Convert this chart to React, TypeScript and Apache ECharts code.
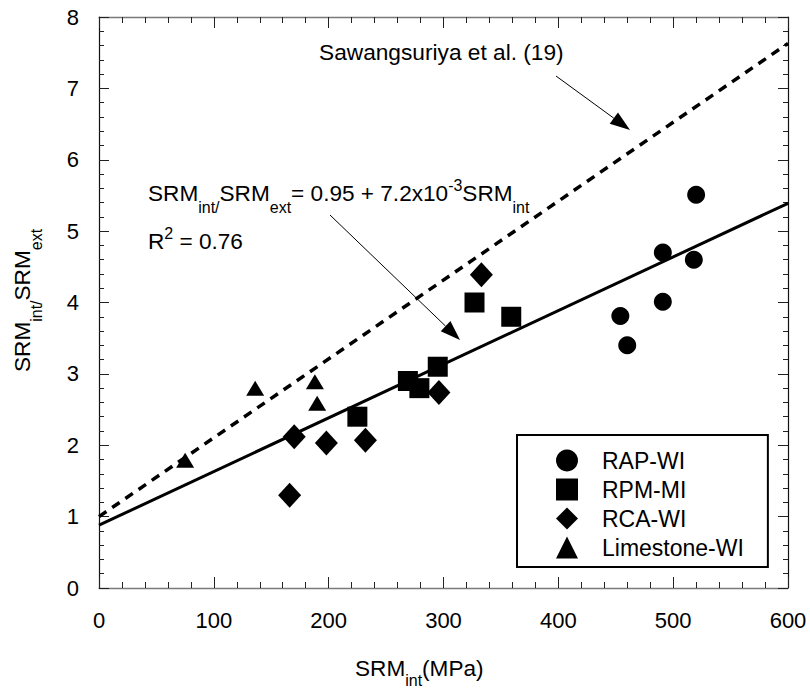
import React, { useEffect, useRef } from 'react';
import * as echarts from 'echarts';

// ---- data ----
const rapX = [520, 491, 518, 491, 454, 460];
const rapY = [5.51, 4.7, 4.6, 4.01, 3.81, 3.4];
const rpmX = [225, 269, 279, 295, 327, 359];
const rpmY = [2.4, 2.9, 2.8, 3.1, 4.0, 3.8];
const rcaX = [166, 170, 198, 232, 296, 333];
const rcaY = [1.3, 2.12, 2.03, 2.07, 2.74, 4.39];
const limeX = [75, 136, 188, 190];
const limeY = [1.79, 2.8, 2.89, 2.59];
const fitX = [0, 600];
const fitY = [0.88, 5.39];
const sawX = [0, 600];
const sawY = [1.0, 7.63];
const seriesNames = ['RAP-WI', 'RPM-MI', 'RCA-WI', 'Limestone-WI'];
const xTicks = { min: 0, max: 600, interval: 100 };
const yTicks = { min: 0, max: 8, interval: 1 };

const FONT = "'Liberation Sans', Arial, Helvetica, sans-serif";

const zip = (xs: number[], ys: number[]) => xs.map((x, i) => [x, ys[i]]);

const richBase = {
  m: { fontSize: 22.6, lineHeight: 44, fontFamily: FONT, color: '#000' },
  s: { fontSize: 16, verticalAlign: 'bottom', fontFamily: FONT, color: '#000' },
  sx: { fontSize: 16, verticalAlign: 'bottom', padding: [0, 0, 1.5, 0], fontFamily: FONT, color: '#000' },
  p: { fontSize: 16, verticalAlign: 'top', padding: [6, 0, 0, 0], fontFamily: FONT, color: '#000' },
};

function arrow(x1: number, y1: number, x2: number, y2: number) {
  const dx = x2 - x1;
  const dy = y2 - y1;
  const len = Math.sqrt(dx * dx + dy * dy);
  const ux = dx / len;
  const uy = dy / len;
  const hl = 20;
  const hw = 7;
  const bx = x2 - ux * hl;
  const by = y2 - uy * hl;
  const nx = -uy;
  const ny = ux;
  return [
    { type: 'line', shape: { x1, y1, x2: bx, y2: by }, style: { stroke: '#000', lineWidth: 1 }, z: 10 },
    {
      type: 'polygon',
      shape: { points: [[x2, y2], [bx + nx * hw, by + ny * hw], [bx - nx * hw, by - ny * hw]] },
      style: { fill: '#000' },
      z: 10,
    },
  ];
}

function richText(x: number, y: number, text: string, rotation = 0) {
  return {
    type: 'text',
    x,
    y,
    rotation,
    z: 10,
    style: {
      text,
      x: 0,
      y: 0,
      align: 'left',
      verticalAlign: 'middle',
      fontSize: 22.6,
      fontFamily: FONT,
      fill: '#000',
      rich: richBase,
    },
  };
}

export default function App() {
  const ref = useRef<HTMLDivElement>(null);
  useEffect(() => {
    if (!ref.current) return;
    const chart = echarts.init(ref.current, null, { renderer: 'svg' });

    const axisCommonX = {
      type: 'value',
      min: xTicks.min,
      max: xTicks.max,
      interval: xTicks.interval,
      axisLine: { show: true, onZero: false, lineStyle: { color: '#7a7a7a', width: 1.3 } },
      axisTick: { show: true, inside: true, length: 11, lineStyle: { color: '#222', width: 1 } },
      minorTick: { show: true, splitNumber: 5, length: 6, lineStyle: { color: '#222', width: 1 } },
      splitLine: { show: false },
      minorSplitLine: { show: false },
    };
    const axisCommonY = {
      type: 'value',
      min: yTicks.min,
      max: yTicks.max,
      interval: yTicks.interval,
      axisLine: { show: true, onZero: false, lineStyle: { color: '#111', width: 1.2 } },
      axisTick: { show: true, inside: true, length: 10, lineStyle: { color: '#222', width: 1 } },
      minorTick: { show: true, splitNumber: 5, length: 5, lineStyle: { color: '#222', width: 1 } },
      splitLine: { show: false },
      minorSplitLine: { show: false },
    };

    const scatterBase = {
      type: 'scatter',
      xAxisIndex: 0,
      yAxisIndex: 0,
      itemStyle: { color: '#000', opacity: 1 },
      z: 5,
    };

    chart.setOption({
      animation: false,
      backgroundColor: '#fff',
      textStyle: { fontFamily: FONT },
      grid: { left: 99, right: 22, top: 17, bottom: 101, containLabel: false, outerBoundsMode: 'none' },
      xAxis: [
        {
          ...axisCommonX,
          position: 'bottom',
          axisLabel: { show: true, margin: 21, fontSize: 22, color: '#000', fontFamily: FONT },
        },
        {
          ...axisCommonX,
          position: 'top',
          axisLabel: { show: false },
        },
      ],
      yAxis: [
        {
          ...axisCommonY,
          position: 'left',
          axisLabel: { show: true, margin: 20, fontSize: 22, color: '#000', fontFamily: FONT },
        },
        {
          ...axisCommonY,
          position: 'right',
          axisLabel: { show: false },
        },
      ],
      legend: {
        show: true,
        data: seriesNames,
        orient: 'vertical',
        left: 517,
        top: 435,
        padding: [14, 24, 8, 39],
        itemWidth: 22,
        itemHeight: 22,
        itemGap: 6,
        backgroundColor: '#fff',
        borderColor: '#000',
        borderWidth: 2,
        borderRadius: 0,
        selectedMode: false,
        itemStyle: { color: '#000' },
        textStyle: { fontSize: 23, color: '#000', fontFamily: FONT, padding: [0, 0, 0, 19] },
      },
      series: [
        {
          type: 'line',
          name: 'fit',
          data: zip(fitX, fitY),
          showSymbol: false,
          silent: true,
          lineStyle: { color: '#000', width: 3 },
          z: 2,
        },
        {
          type: 'line',
          name: 'Sawangsuriya',
          data: zip(sawX, sawY),
          showSymbol: false,
          silent: true,
          lineStyle: { color: '#000', width: 3.5, type: [9, 7] },
          z: 2,
        },
        { ...scatterBase, name: seriesNames[0], symbol: 'circle', symbolSize: 18, data: zip(rapX, rapY) },
        { ...scatterBase, name: seriesNames[1], symbol: 'rect', symbolSize: 20, data: zip(rpmX, rpmY) },
        { ...scatterBase, name: seriesNames[2], symbol: 'diamond', symbolSize: [23, 25], data: zip(rcaX, rcaY) },
        { ...scatterBase, name: seriesNames[3], symbol: 'triangle', symbolSize: [18, 15], data: zip(limeX, limeY) },
      ],
      graphic: [
        {
          type: 'text',
          x: 319,
          y: 52,
          z: 10,
          style: {
            text: 'Sawangsuriya et al. (19)',
            x: 0,
            y: 0,
            align: 'left',
            verticalAlign: 'middle',
            fontSize: 22.7,
            fontFamily: FONT,
            fill: '#000',
          },
        },
        richText(148, 193, '{m|SRM}{s|int/}{m|SRM}{s|ext}{m|= 0.95 + 7.2x10}{p|-3}{m|SRM}{s|int}'),
        richText(148, 241, '{m|R}{p|2}{m| = 0.76}'),
        richText(355, 668, '{m|SRM}{sx|int}{m|(MPa)}'),
        richText(22.5, 372, '{m|SRM}{s|int/}{m|SRM}{s|ext}', Math.PI / 2),
        ...arrow(556, 76, 630, 130),
        ...arrow(330, 215, 460, 340),
      ],
    });
    return () => chart.dispose();
  }, []);
  return (
    <div
      ref={ref}
      style={{ position: 'absolute', left: 0, top: 0, width: 810, height: 689, background: '#fff' }}
    />
  );
}
